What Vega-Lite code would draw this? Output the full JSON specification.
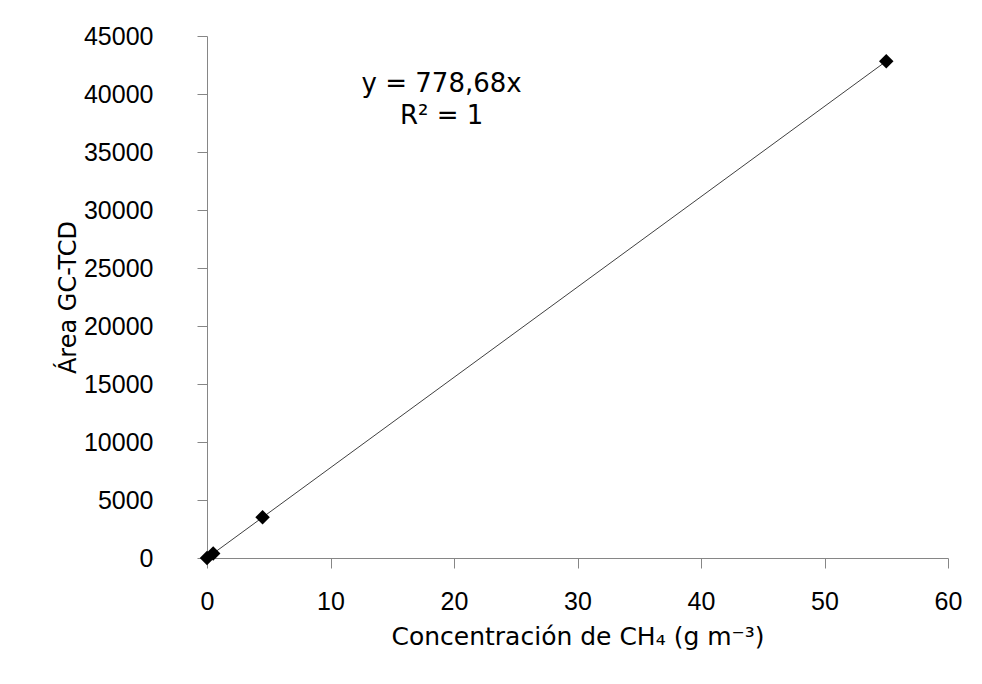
{
  "$schema": "https://vega.github.io/schema/vega-lite/v6.json",
  "autosize": {"type": "none"},
  "width": 741,
  "height": 522,
  "padding": {"left": 207, "top": 36, "right": 34, "bottom": 126},
  "background": "white",
  "config": {
    "view": {"stroke": null},
    "font": "Liberation Sans",
    "axis": {
      "grid": false,
      "domainColor": "#868686",
      "tickColor": "#868686",
      "tickSize": 10,
      "labelFont": "Liberation Sans",
      "labelFontSize": 25,
      "labelColor": "#000000",
      "labelFlush": false,
      "labelOverlap": false,
      "titleFont": "DejaVu Sans",
      "titleFontSize": 25,
      "titleFontWeight": "normal",
      "titleColor": "#000000"
    }
  },
  "datasets": {
    "calibracion": [
      {"conc": 0, "area": 0},
      {"conc": 0.5, "area": 389},
      {"conc": 4.5, "area": 3504},
      {"conc": 55, "area": 42827}
    ],
    "ecuacion": [
      {"conc": 19, "area": 40900, "texto": "y = 778,68x"},
      {"conc": 19, "area": 38100, "texto": "R² = 1"}
    ]
  },
  "layer": [
    {
      "data": {"name": "calibracion"},
      "mark": {"type": "line", "color": "#404040", "strokeWidth": 1},
      "encoding": {
        "x": {
          "field": "conc", "type": "quantitative",
          "scale": {"domain": [0, 60], "nice": false},
          "axis": {"values": [0, 10, 20, 30, 40, 50, 60], "format": "d", "labelPadding": 21, "title": "Concentración de CH₄ (g m⁻³)", "titlePadding": 10}
        },
        "y": {
          "field": "area", "type": "quantitative",
          "scale": {"domain": [0, 45000], "nice": false},
          "axis": {"values": [0, 5000, 10000, 15000, 20000, 25000, 30000, 35000, 40000, 45000], "format": "d", "labelPadding": 44, "title": "Área GC-TCD", "titleFontSize": 24, "titlePadding": 3}
        }
      }
    },
    {
      "data": {"name": "calibracion"},
      "mark": {"type": "point", "shape": "diamond", "filled": true, "color": "#000000", "size": 210, "opacity": 1},
      "encoding": {
        "x": {"field": "conc", "type": "quantitative"},
        "y": {"field": "area", "type": "quantitative"}
      }
    },
    {
      "data": {"name": "ecuacion"},
      "mark": {"type": "text", "font": "DejaVu Sans", "fontSize": 26, "color": "#000000", "align": "center", "baseline": "middle"},
      "encoding": {
        "x": {"field": "conc", "type": "quantitative"},
        "y": {"field": "area", "type": "quantitative"},
        "text": {"field": "texto"}
      }
    }
  ]
}
